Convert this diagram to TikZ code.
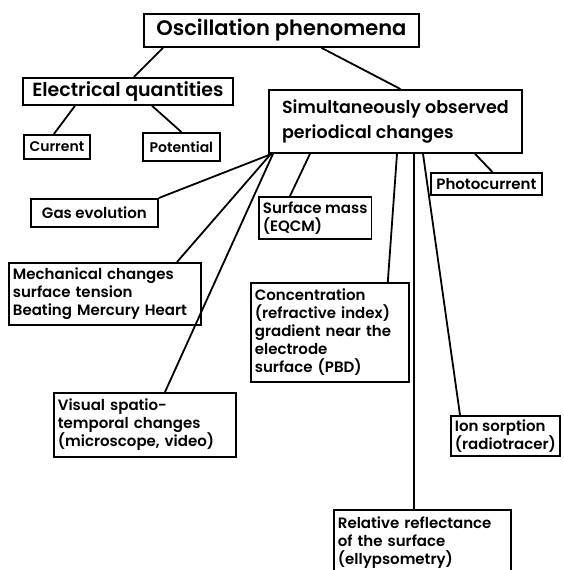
\documentclass[tikz,border=0pt]{standalone}
\usepackage{fontspec}
\setmainfont{Poppins}[UprightFont={* SemiBold}]

\begin{document}
\begin{tikzpicture}[
    x=1pt, y=-1pt,
    box/.style={draw, line width=1.8pt, anchor=north west, inner ysep=2pt, align=left},
    big/.style={box, inner xsep=5pt},
    small/.style={box, inner xsep=4pt, font=\fontsize{15}{18}\selectfont},
    tiny/.style={box, inner xsep=4pt, font=\fontsize{14}{17}\selectfont},
    link/.style={line width=1.8pt}
]
\useasboundingbox (0,0) rectangle (563,570);

% Top of the tree
\node[big, font=\fontsize{21}{24}\selectfont, minimum width=275, minimum height=33] (osc) at (143,13) {Oscillation phenomena};

% Electrical branch
\node[big, font=\fontsize{19}{23}\selectfont, minimum width=210, minimum height=27] (elec) at (22,77) {Electrical quantities};
\node[tiny, minimum width=66, minimum height=24] (current) at (23,134) {Current};
\node[tiny, minimum width=77, minimum height=28] (potential) at (142,132) {Potential};

% Observed changes branch
\node[big, font=\fontsize{17.5}{25}\selectfont, minimum width=253, minimum height=63] (sim) at (268,89) {Simultaneously observed\\periodical changes};
\node[small, minimum width=111, minimum height=22] (photo) at (430,172) {Photocurrent};
\node[small, minimum width=127, minimum height=28] (gas) at (30,198) {Gas evolution};
\node[small, minimum width=111, minimum height=42] (surf) at (258,196) {Surface mass\\(EQCM)};
\node[small, text width=184, minimum height=62] (mech) at (8,262) {Mechanical changes\\surface tension\\Beating Mercury Heart};
\node[small, text width=150, minimum height=99] (conc) at (250,282) {Concentration\\(refractive index)\\gradient near the\\electrode\\surface (PBD)};
\node[small, text width=174, minimum height=64] (visual) at (53,392) {Visual spatio-\\temporal changes\\(microscope, video)};
\node[small, minimum width=109, minimum height=40] (ion) at (450,415) {Ion sorption\\(radiotracer)};
\node[small, text width=169, minimum height=66] (refl) at (333,509) {Relative reflectance\\of the surface\\(ellypsometry)};

% Links
\draw[link] ([xshift=20pt]osc.south west) -- ([xshift=6pt]elec.north);
\draw[link] ([xshift=40pt]osc.south) -- ([xshift=5pt]sim.north);
\draw[link] ([xshift=53pt]elec.south west) -- ([xshift=-3pt]current.north);
\draw[link] ([xshift=130pt]elec.south west) -- (potential.north);

\draw[link] ([xshift=207pt]sim.south west) -- ([xshift=6pt]photo.north);
\draw[link] ([xshift=4pt]sim.south west) -- (gas.north east);
\draw[link] ([xshift=3pt]sim.south west) -- ([xshift=169pt]mech.north west);
\draw[link] ([xshift=5pt]sim.south west) -- ([xshift=112pt]visual.north west);
\draw[link] ([xshift=42pt]sim.south west) -- ([xshift=32pt]surf.north west);
\draw[link] ([xshift=129pt]sim.south west) -- ([xshift=-22pt]conc.north east);
\draw[link] ([xshift=146pt]sim.south west) -- ([xshift=81pt]refl.north west);
\draw[link] ([xshift=155pt]sim.south west) -- ([xshift=10pt]ion.north west);

\end{tikzpicture}
\end{document}
